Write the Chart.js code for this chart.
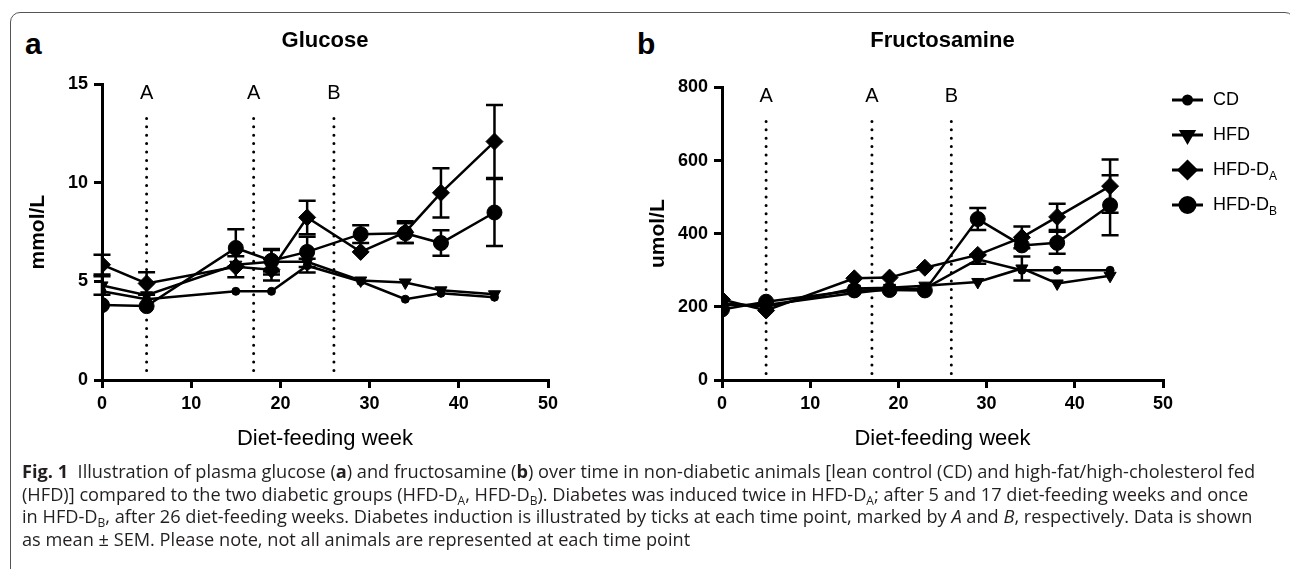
<!DOCTYPE html>
<html>
<head>
<meta charset="utf-8">
<script src="https://cdn.jsdelivr.net/npm/chart.js"></script>
<style>
  body { margin: 0; background: #fff; width: 1290px; height: 569px; overflow: hidden; position: relative; font-family: "Liberation Sans", Arial, sans-serif; }
  .frame { position: absolute; left: 10px; top: 12px; width: 1285px; height: 620px; border: 1px solid #555; border-radius: 10px; box-sizing: border-box; }
  .panel { position: absolute; font-weight: bold; font-size: 30px; line-height: 30px; }
  canvas { position: absolute; }
  .caption { position: absolute; left: 22px; top: 460px; font-family: "Open Sans", sans-serif; font-size: 18.2px; line-height: 22.6px; color: #231f20; white-space: nowrap; }
  .caption sub { font-size: 12px; vertical-align: -4px; line-height: 0; }
</style>
</head>
<body>
<div class="frame"></div>
<div class="panel" style="left:25px; top:29px;">a</div>
<div class="panel" style="left:637px; top:29px;">b</div>
<canvas id="glucose" width="600" height="440" style="left:0; top:20px;"></canvas>
<canvas id="fructosamine" width="670" height="440" style="left:620px; top:20px;"></canvas>
<div class="caption">
<b>Fig. 1</b>&nbsp; Illustration of plasma glucose (<b>a</b>) and fructosamine (<b>b</b>) over time in non-diabetic animals [lean control (CD) and high-fat/high-cholesterol fed<br>
(HFD)] compared to the two diabetic groups (HFD-D<sub>A</sub>, HFD-D<sub>B</sub>). Diabetes was induced twice in HFD-D<sub>A</sub>; after 5 and 17 diet-feeding weeks and once<br>
in HFD-D<sub>B</sub>, after 26 diet-feeding weeks. Diabetes induction is illustrated by ticks at each time point, marked by <i>A</i> and <i>B</i>, respectively. Data is shown<br>
as mean &plusmn; SEM. Please note, not all animals are represented at each time point
</div>
<script>
// sampling weeks and group names
const weeks = [0, 5, 15, 19, 23, 29, 34, 38, 44];
const groups = ['CD', 'HFD', 'HFD-D_A', 'HFD-D_B'];

// diabetes induction ticks
const inductionWeeks = [5, 17, 26];
const inductionLabels = ['A', 'A', 'B'];

// plasma glucose, mmol/L (mean and SEM)
const glucoseCD   = [4.5, 4.1, 4.5, 4.5, 5.8, 5.0, 4.1, 4.4, 4.2];
const glucoseHFD  = [4.8, 4.3, 5.85, 6.0, 6.0, 5.05, 4.95, 4.55, 4.35];
const glucoseDA   = [5.85, 4.9, 5.75, 5.6, 8.25, 6.5, 7.5, 9.5, 12.1];
const glucoseDB   = [3.8, 3.75, 6.7, 6.05, 6.5, 7.4, 7.45, 6.95, 8.5];
const glucoseCDsem  = [0.1, 0.1, 0.1, 0.1, 0.35, 0.2, 0.1, 0.1, 0.1];
const glucoseHFDsem = [0.47, 0.3, 0.3, 0.65, 0.3, 0.3, 0.15, 0.1, 0.1];
const glucoseDAsem  = [0.5, 0.57, 0.53, 0.55, 0.85, 0.3, 0.55, 1.25, 1.85];
const glucoseDBsem  = [0.1, 0.1, 0.95, 0.55, 0.77, 0.45, 0.5, 0.65, 1.7];

// fructosamine, umol/L (mean and SEM)
const fructCD   = [205, 205, 238, 248, 250, 330, 300, 300, 300];
const fructHFD  = [210, 200, 250, 252, 258, 268, 305, 264, 285];
const fructDA   = [220, 190, 278, 280, 307, 342, 390, 446, 530];
const fructDB   = [193, 214, 245, 246, 245, 440, 368, 375, 478];
const fructCDsem  = [5, 5, 5, 5, 5, 12, 5, 5, 5];
const fructHFDsem = [5, 5, 5, 5, 5, 5, 33, 14, 5];
const fructDAsem  = [5, 5, 5, 5, 5, 5, 30, 36, 73];
const fructDBsem  = [5, 5, 5, 5, 5, 30, 18, 30, 82];

const FONT = "'Liberation Sans', Arial, sans-serif";
Chart.defaults.font.family = FONT;
Chart.defaults.color = '#000';

const markers = [
  { pointStyle: 'circle', pointRadius: 4, pointRotation: 0 },
  { pointStyle: 'triangle', pointRadius: 7, pointRotation: 180 },
  { pointStyle: 'rectRot', pointRadius: 8.5, pointRotation: 0 },
  { pointStyle: 'circle', pointRadius: 7.5, pointRotation: 0 }
];

function makeDatasets(series, sems) {
  return series.map((vals, k) => ({
    label: groups[k],
    data: vals.map((v, i) => ({ x: weeks[i], y: v })),
    sem: sems[k],
    borderColor: '#000',
    backgroundColor: '#000',
    borderWidth: 2.5,
    pointBorderWidth: 1,
    pointHoverRadius: markers[k].pointRadius,
    ...markers[k]
  }));
}

// mean +/- SEM bars, hidden when shorter than the marker
const errorBars = {
  id: 'errorBars',
  beforeDatasetsDraw(chart) {
    const { ctx, scales: { x, y } } = chart;
    ctx.save();
    ctx.strokeStyle = '#000';
    ctx.lineWidth = 2.5;
    chart.data.datasets.forEach(ds => {
      ds.data.forEach((p, i) => {
        const px = x.getPixelForValue(p.x);
        const py = y.getPixelForValue(p.y);
        const top = y.getPixelForValue(p.y + ds.sem[i]);
        const bot = y.getPixelForValue(p.y - ds.sem[i]);
        if (py - top <= ds.pointRadius) return;
        ctx.beginPath();
        ctx.moveTo(px, top); ctx.lineTo(px, bot);
        ctx.moveTo(px - 8.5, top); ctx.lineTo(px + 8.5, top);
        ctx.moveTo(px - 8.5, bot); ctx.lineTo(px + 8.5, bot);
        ctx.stroke();
      });
    });
    ctx.restore();
  }
};

// dotted induction ticks with A / B labels
const induction = {
  id: 'induction',
  beforeDatasetsDraw(chart, args, opts) {
    const { ctx, chartArea, scales: { x } } = chart;
    ctx.save();
    ctx.strokeStyle = '#000';
    ctx.fillStyle = '#000';
    ctx.lineWidth = 3;
    ctx.lineCap = 'round';
    ctx.setLineDash([0, 8.4]);
    ctx.font = '20px ' + FONT;
    ctx.textAlign = 'center';
    ctx.textBaseline = 'middle';
    inductionWeeks.forEach((w, i) => {
      const px = x.getPixelForValue(w);
      ctx.beginPath();
      ctx.moveTo(px, chartArea.top + opts.lineTop);
      ctx.lineTo(px, chartArea.bottom - 2);
      ctx.stroke();
      ctx.fillText(inductionLabels[i], px, chartArea.top + opts.labelY);
    });
    ctx.restore();
  }
};

function drawMarker(ctx, ds, x, y) {
  if (Chart.helpers && Chart.helpers.drawPoint) {
    Chart.helpers.drawPoint(ctx, { pointStyle: ds.pointStyle, radius: ds.pointRadius, rotation: ds.pointRotation, borderWidth: 1 }, x, y);
  } else {
    ctx.beginPath();
    ctx.arc(x, y, ds.pointRadius, 0, Math.PI * 2);
    ctx.fill();
  }
}

// legend to the right of panel b, with subscripts
const sideLegend = {
  id: 'sideLegend',
  afterDraw(chart, args, opts) {
    if (!opts.show) return;
    const { ctx } = chart;
    chart.data.datasets.forEach((ds, i) => {
      const y = opts.top + i * opts.spacing;
      const x0 = opts.left;
      ctx.save();
      ctx.strokeStyle = '#000';
      ctx.fillStyle = '#000';
      ctx.lineWidth = 3;
      ctx.beginPath();
      ctx.moveTo(x0, y); ctx.lineTo(x0 + 31, y);
      ctx.stroke();
      drawMarker(ctx, ds, x0 + 15.5, y);
      const [main, sub] = ds.label.split('_');
      ctx.textBaseline = 'middle';
      ctx.textAlign = 'left';
      ctx.font = '18px ' + FONT;
      ctx.fillText(main, x0 + 41, y);
      if (sub) {
        const w = ctx.measureText(main).width;
        ctx.font = '12px ' + FONT;
        ctx.fillText(sub, x0 + 41 + w, y + 7);
      }
      ctx.restore();
    });
  }
};

function makeChart(id, title, yTitle, yMax, yStep, series, sems, pad) {
  return new Chart(document.getElementById(id), {
    type: 'line',
    data: { datasets: makeDatasets(series, sems) },
    plugins: [errorBars, induction, sideLegend],
    options: {
      responsive: false,
      animation: false,
      events: [],
      layout: { padding: { left: 0, right: pad.right, top: 0, bottom: 0 } },
      plugins: {
        legend: { display: false },
        tooltip: { enabled: false },
        title: {
          display: true, text: title, fullSize: false,
          font: { size: 22, weight: 'bold' },
          padding: { top: pad.titleTop, bottom: pad.titleBottom }
        },
        induction: { lineTop: 34, labelY: 9 },
        sideLegend: { show: pad.legend, left: 552, top: 80, spacing: 35 }
      },
      scales: {
        x: {
          type: 'linear', min: 0, max: 50,
          ticks: { stepSize: 10, padding: 5, font: { size: 18, weight: 'bold' } },
          grid: { drawOnChartArea: false, color: '#000', lineWidth: 3, tickLength: 8 },
          border: { color: '#000', width: 3 },
          title: { display: true, text: 'Diet-feeding week', font: { size: 22 }, padding: { top: 0, bottom: 8 } },
          afterFit: s => { s.height = 80; }
        },
        y: {
          min: 0, max: yMax,
          ticks: { stepSize: yStep, padding: 6, font: { size: 18, weight: 'bold' } },
          grid: { drawOnChartArea: false, color: '#000', lineWidth: 3, tickLength: 8 },
          border: { color: '#000', width: 3 },
          title: { display: true, text: yTitle, font: { size: 21, weight: 'bold' }, padding: { top: 26, bottom: 0 } },
          afterFit: s => { s.width = 102; }
        }
      }
    }
  });
}

makeChart('glucose', 'Glucose', 'mmol/L', 15, 5,
  [glucoseCD, glucoseHFD, glucoseDA, glucoseDB],
  [glucoseCDsem, glucoseHFDsem, glucoseDAsem, glucoseDBsem],
  { right: 52, titleTop: 8, titleBottom: 30, legend: false });

makeChart('fructosamine', 'Fructosamine', 'umol/L', 800, 200,
  [fructCD, fructHFD, fructDA, fructDB],
  [fructCDsem, fructHFDsem, fructDAsem, fructDBsem],
  { right: 127, titleTop: 8, titleBottom: 33, legend: true });
</script>
</body>
</html>
